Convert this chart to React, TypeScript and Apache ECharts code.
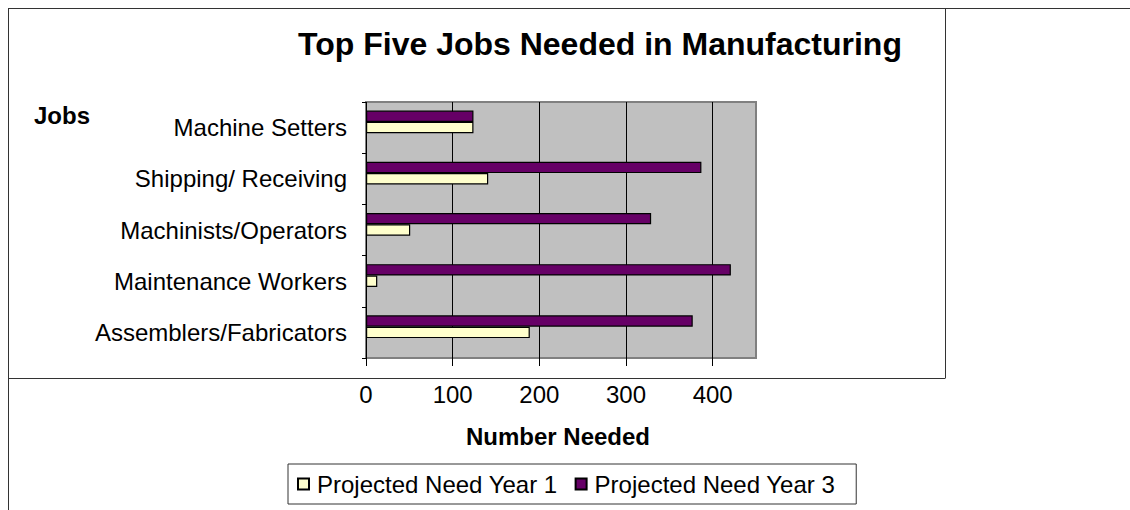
import React, { useEffect, useRef } from "react";
import * as echarts from "echarts";

const categories = [
  "Machine Setters",
  "Shipping/ Receiving",
  "Machinists/Operators",
  "Maintenance Workers",
  "Assemblers/Fabricators",
];
const year1 = [124, 141, 51, 13, 189];
const year3 = [124, 387, 329, 421, 377];
const spacer: number[] = [];
const xTicks = [0, 100, 200, 300, 400];
const seriesNames = ["Projected Need Year 1", "Projected Need Year 3"];

const FONT = 'Arial, "Liberation Sans", sans-serif';

export default function App() {
  const ref = useRef<HTMLDivElement>(null);
  useEffect(() => {
    if (!ref.current) return;
    const chart = echarts.init(ref.current, undefined, { renderer: "svg" });
    const frame = (x1: number, y1: number, x2: number, y2: number) => ({
      type: "line",
      silent: true,
      z: 100,
      shape: { x1, y1, x2, y2 },
      style: { stroke: "#333", lineWidth: 1 },
    });
    chart.setOption({
      animation: false,
      backgroundColor: "#fff",
      textStyle: { fontFamily: FONT },
      grid: {
        left: 366,
        top: 102,
        width: 390,
        height: 256,
        show: true,
        backgroundColor: "#C0C0C0",
        borderColor: "#808080",
        borderWidth: 2,
        containLabel: false,
      },
      xAxis: {
        type: "value",
        min: 0,
        max: 450,
        interval: 100,
        axisLine: { show: false },
        axisTick: {
          show: true,
          length: 8,
          lineStyle: { color: "#000" },
          customValues: xTicks,
        },
        axisLabel: {
          customValues: xTicks,
          margin: 24,
          fontSize: 24,
          color: "#000",
          fontFamily: FONT,
        },
        splitLine: { show: true, lineStyle: { color: "#000", width: 1 } },
      },
      yAxis: {
        type: "category",
        data: categories,
        inverse: true,
        axisLine: { show: false },
        axisTick: { show: true, length: 4, lineStyle: { color: "#000" } },
        axisLabel: {
          margin: 19,
          fontSize: 24,
          color: "#000",
          fontFamily: FONT,
          padding: [0, 0, 8, 0],
        },
        splitLine: { show: false },
      },
      legend: {
        data: seriesNames,
        left: 288,
        top: 464,
        orient: "horizontal",
        padding: [8, 21, 8, 9],
        borderColor: "#333",
        borderWidth: 1,
        itemWidth: 11,
        itemHeight: 11,
        itemGap: 17,
        icon: "rect",
        textStyle: {
          fontSize: 24,
          color: "#000",
          fontFamily: FONT,
          padding: [0, 0, 0, 3],
        },
      },
      series: [
        {
          name: seriesNames[1],
          type: "bar",
          data: year3,
          barGap: "0%",
          barCategoryGap: "33.33%",
          itemStyle: { color: "#660066", borderColor: "#000", borderWidth: 1.2 },
        },
        {
          name: seriesNames[0],
          type: "bar",
          data: year1,
          barGap: "0%",
          barCategoryGap: "33.33%",
          itemStyle: { color: "#FFFFCC", borderColor: "#000", borderWidth: 1.2 },
        },
        {
          name: "spacer",
          type: "bar",
          data: spacer,
          barGap: "0%",
          barCategoryGap: "33.33%",
        },
      ],
      graphic: [
        frame(8, 8.5, 1130, 8.5),
        frame(8.5, 8, 8.5, 510),
        frame(8, 378.5, 945, 378.5),
        frame(945.5, 8, 945.5, 378.5),
        {
          type: "text",
          x: 600,
          y: 44,
          style: {
            text: "Top Five Jobs Needed in Manufacturing",
            font: `bold 32px ${FONT}`,
            fill: "#000",
            textAlign: "center",
            textVerticalAlign: "middle",
          },
        },
        {
          type: "text",
          x: 34,
          y: 115,
          style: {
            text: "Jobs",
            font: `bold 24px ${FONT}`,
            fill: "#000",
            textAlign: "left",
            textVerticalAlign: "middle",
          },
        },
        {
          type: "text",
          x: 558,
          y: 436,
          style: {
            text: "Number Needed",
            font: `bold 24px ${FONT}`,
            fill: "#000",
            textAlign: "center",
            textVerticalAlign: "middle",
          },
        },
      ],
    });
    return () => chart.dispose();
  }, []);
  return (
    <div
      ref={ref}
      style={{ position: "fixed", left: 0, top: 0, width: 1130, height: 510 }}
    />
  );
}
